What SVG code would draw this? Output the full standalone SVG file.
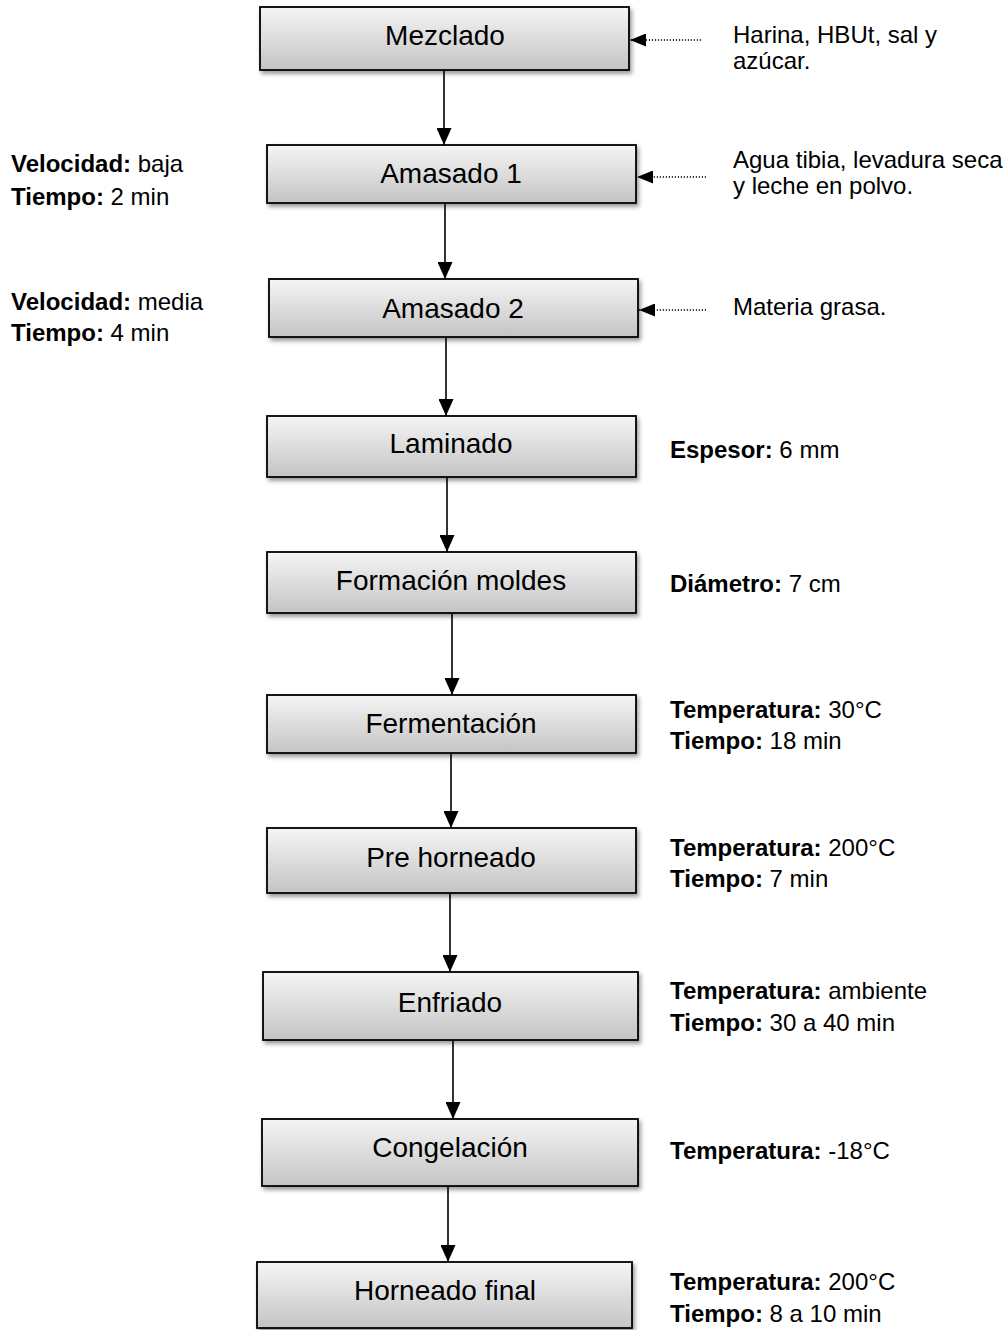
<svg xmlns="http://www.w3.org/2000/svg" width="1008" height="1330" viewBox="0 0 1008 1330">
<defs>
<linearGradient id="boxGrad" x1="0" y1="0" x2="0" y2="1">
<stop offset="0" stop-color="#f5f5f5"/>
<stop offset="1" stop-color="#c4c4c4"/>
</linearGradient>
<filter id="shadow" x="-10%" y="-20%" width="125%" height="160%">
<feDropShadow dx="2" dy="3" stdDeviation="2.2" flood-color="#000" flood-opacity="0.4"/>
</filter>
<marker id="arrow" viewBox="0 0 10 10" preserveAspectRatio="none" refX="10" refY="5" markerWidth="17" markerHeight="15" markerUnits="userSpaceOnUse" orient="auto">
<path d="M0,0 L10,5 L0,10 z" fill="#000"/>
</marker>
<marker id="arrowIn" viewBox="0 0 10 10" preserveAspectRatio="none" refX="10" refY="5" markerWidth="16" markerHeight="13" markerUnits="userSpaceOnUse" orient="auto">
<path d="M0,0 L10,5 L0,10 z" fill="#000"/>
</marker>
</defs>
<style>
.box{fill:url(#boxGrad);stroke:#000;stroke-width:1.8;filter:url(#shadow)}
.lbl{font-family:"Liberation Sans",Arial,sans-serif;font-size:28px;fill:#000;text-anchor:middle}
.note{font-family:"Liberation Sans",Arial,sans-serif;font-size:24px;fill:#000}
.b{font-weight:bold}
.flow{stroke:#000;stroke-width:1.6;fill:none;marker-end:url(#arrow)}
.dot{stroke:#000;stroke-width:1.5;fill:none;stroke-dasharray:1.2 1.8;marker-end:url(#arrowIn)}
</style>
<rect width="1008" height="1330" fill="#fff"/>

<g id="connectors">
<line class="flow" x1="444" y1="70" x2="444" y2="145"/>
<line class="flow" x1="445" y1="203" x2="445" y2="279"/>
<line class="flow" x1="446" y1="337" x2="446" y2="416"/>
<line class="flow" x1="447" y1="477" x2="447" y2="552"/>
<line class="flow" x1="452" y1="613" x2="452" y2="695"/>
<line class="flow" x1="451" y1="753" x2="451" y2="828"/>
<line class="flow" x1="450" y1="893" x2="450" y2="972"/>
<line class="flow" x1="453" y1="1040" x2="453" y2="1119"/>
<line class="flow" x1="448" y1="1186" x2="448" y2="1262"/>
<line class="dot" x1="701" y1="40" x2="630" y2="40"/>
<line class="dot" x1="706" y1="177" x2="637" y2="177"/>
<line class="dot" x1="706" y1="310" x2="639" y2="310"/>
</g>

<g id="mezclado"><rect class="box" x="260" y="7" width="369" height="63"/><text class="lbl" x="445" y="45">Mezclado</text></g>
<g id="amasado1"><rect class="box" x="267" y="145" width="369" height="58"/><text class="lbl" x="451" y="183">Amasado 1</text></g>
<g id="amasado2"><rect class="box" x="269" y="279" width="369" height="58"/><text class="lbl" x="453" y="318">Amasado 2</text></g>
<g id="laminado"><rect class="box" x="267" y="416" width="369" height="61"/><text class="lbl" x="451" y="453">Laminado</text></g>
<g id="formacion"><rect class="box" x="267" y="552" width="369" height="61"/><text class="lbl" x="451" y="590">Formación moldes</text></g>
<g id="fermentacion"><rect class="box" x="267" y="695" width="369" height="58"/><text class="lbl" x="451" y="733">Fermentación</text></g>
<g id="prehorneado"><rect class="box" x="267" y="828" width="369" height="65"/><text class="lbl" x="451" y="867">Pre horneado</text></g>
<g id="enfriado"><rect class="box" x="263" y="972" width="375" height="68"/><text class="lbl" x="450" y="1012">Enfriado</text></g>
<g id="congelacion"><rect class="box" x="262" y="1119" width="376" height="67"/><text class="lbl" x="450" y="1157">Congelación</text></g>
<g id="horneadofinal"><rect class="box" x="257" y="1262" width="375" height="66"/><text class="lbl" x="445" y="1300">Horneado final</text></g>

<g id="notes">
<text class="note" x="733" y="43">Harina, HBUt, sal y</text>
<text class="note" x="733" y="69">azúcar.</text>
<text class="note" x="733" y="168">Agua tibia, levadura seca</text>
<text class="note" x="733" y="194">y leche en polvo.</text>
<text class="note" x="733" y="315">Materia grasa.</text>
<text class="note" x="11" y="172"><tspan class="b">Velocidad:</tspan> baja</text>
<text class="note" x="11" y="205"><tspan class="b">Tiempo:</tspan> 2 min</text>
<text class="note" x="11" y="310"><tspan class="b">Velocidad:</tspan> media</text>
<text class="note" x="11" y="341"><tspan class="b">Tiempo:</tspan> 4 min</text>
<text class="note" x="670" y="458"><tspan class="b">Espesor:</tspan> 6 mm</text>
<text class="note" x="670" y="592"><tspan class="b">Diámetro:</tspan> 7 cm</text>
<text class="note" x="670" y="718"><tspan class="b">Temperatura:</tspan> 30°C</text>
<text class="note" x="670" y="749"><tspan class="b">Tiempo:</tspan> 18 min</text>
<text class="note" x="670" y="856"><tspan class="b">Temperatura:</tspan> 200°C</text>
<text class="note" x="670" y="887"><tspan class="b">Tiempo:</tspan> 7 min</text>
<text class="note" x="670" y="999"><tspan class="b">Temperatura:</tspan> ambiente</text>
<text class="note" x="670" y="1031"><tspan class="b">Tiempo:</tspan> 30 a 40 min</text>
<text class="note" x="670" y="1159"><tspan class="b">Temperatura:</tspan> -18°C</text>
<text class="note" x="670" y="1290"><tspan class="b">Temperatura:</tspan> 200°C</text>
<text class="note" x="670" y="1322"><tspan class="b">Tiempo:</tspan> 8 a 10 min</text>
</g>
</svg>
